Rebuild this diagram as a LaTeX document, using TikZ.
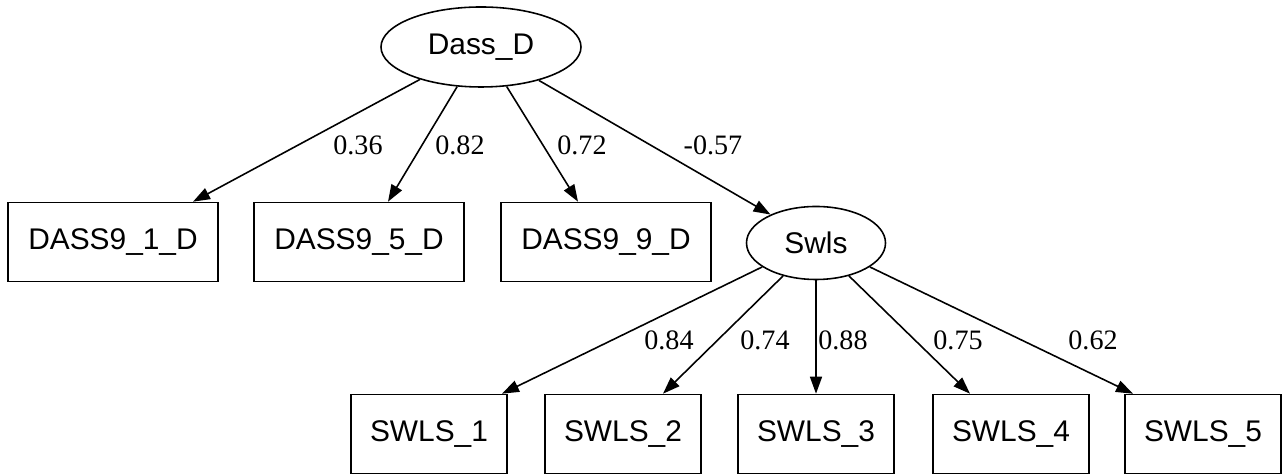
\documentclass[tikz,border=0pt]{standalone}
\usepackage{fontspec}
\setmainfont{Liberation Serif}
\newfontfamily\varfont{Liberation Sans}
\usetikzlibrary{shapes.geometric}
\usetikzlibrary{arrows.meta}

\begin{document}
\begin{tikzpicture}[
  obs/.style={draw,rectangle,line width=0.9pt,minimum width=4.2cm,minimum height=1.58cm,font=\varfont\fontsize{17}{20}\selectfont},
  obsb/.style={obs,minimum width=3.12cm},
  lat/.style={draw,ellipse,line width=0.9pt,inner sep=0pt,font=\varfont\fontsize{17}{20}\selectfont},
  load/.style={line width=0.9pt,-{Triangle[length=0.34cm,width=0.24cm]}},
  coef/.style={font=\fontsize{16}{19}\selectfont,inner sep=0pt}
]
\useasboundingbox (0,0) rectangle (25.64,9.48);

\node[lat,minimum width=4.0cm,minimum height=1.6cm] (Dass) at (9.62,8.54) {Dass\_D};
\node[obs] (D1) at (2.26,4.64) {DASS9\_1\_D};
\node[obs] (D5) at (7.18,4.64) {DASS9\_5\_D};
\node[obs] (D9) at (12.12,4.64) {DASS9\_9\_D};
\node[lat,minimum width=2.78cm,minimum height=1.46cm] (Swls) at (16.32,4.62) {Swls};

\node[obsb] (S1) at (8.58,0.80) {SWLS\_1};
\node[obsb] (S2) at (12.46,0.80) {SWLS\_2};
\node[obsb] (S3) at (16.32,0.80) {SWLS\_3};
\node[obsb] (S4) at (20.22,0.80) {SWLS\_4};
\node[obsb] (S5) at (24.06,0.80) {SWLS\_5};

\draw[load] (Dass.208) -- ([xshift=1.6cm]D1.north);
\draw[load] (Dass.239) -- ([xshift=0.58cm]D5.north);
\draw[load] (Dass.303) -- ([xshift=-0.56cm]D9.north);
\draw[load] (Dass.330) -- (Swls.148);

\draw[load] (Swls.204) -- ([xshift=1.46cm]S1.north);
\draw[load] (Swls.225) -- ([xshift=0.8cm]S2.north);
\draw[load] (Swls.south) -- (S3.north);
\draw[load] (Swls.315) -- ([xshift=-0.82cm]S4.north);
\draw[load] (Swls.336) -- ([xshift=-1.4cm]S5.north);

\node[coef] (l1) at (7.16,6.58) {0.36};
\node[coef] (l5) at (9.2,6.58) {0.82};
\node[coef] (l9) at (11.64,6.58) {0.72};
\node[coef] (ls) at (14.26,6.58) {-0.57};

\node[coef] (m1) at (13.38,2.68) {0.84};
\node[coef] (m2) at (15.3,2.68) {0.74};
\node[coef] (m3) at (16.86,2.68) {0.88};
\node[coef] (m4) at (19.16,2.68) {0.75};
\node[coef] (m5) at (21.86,2.68) {0.62};

\end{tikzpicture}
\end{document}
